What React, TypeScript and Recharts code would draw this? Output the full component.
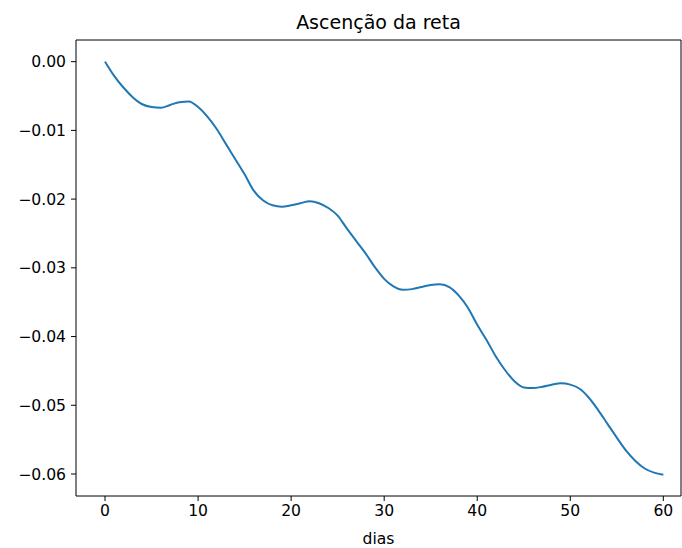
import { LineChart, Line, XAxis, YAxis } from 'recharts';

// dias (x) e ascensão da reta (y)
const days = [
  0, 1, 2, 3, 4, 5, 6, 7, 8, 9, 10, 11, 12, 13, 14, 15, 16, 17, 18, 19, 20,
  21, 22, 23, 24, 25, 26, 27, 28, 29, 30, 31, 32, 33, 34, 35, 36, 37, 38, 39, 40,
  41, 42, 43, 44, 45, 46, 47, 48, 49, 50, 51, 52, 53, 54, 55, 56, 57, 58, 59, 60,
];

const ascension = [
  0, -0.0021, -0.0038, -0.0052, -0.0062, -0.0066, -0.0067, -0.0063, -0.0059, -0.0058,
  -0.0066, -0.008, -0.0098, -0.012, -0.0142, -0.0164, -0.0188, -0.0202, -0.0209, -0.0211,
  -0.0209, -0.0206, -0.0203, -0.0206, -0.0213, -0.0224, -0.0243, -0.0261, -0.0279, -0.0299,
  -0.0316, -0.0327, -0.0332, -0.0331, -0.0328, -0.0325, -0.0324, -0.0328, -0.034, -0.0358,
  -0.0383, -0.0405, -0.0429, -0.0449, -0.0465, -0.0474, -0.0475, -0.0473, -0.047, -0.0468,
  -0.047, -0.0476, -0.0489, -0.0507, -0.0527, -0.0547, -0.0566, -0.0581, -0.0592, -0.0598,
  -0.0601,
];

const xTicks = [0, 10, 20, 30, 40, 50, 60];
const yTicks = [0, -0.01, -0.02, -0.03, -0.04, -0.05, -0.06];

const title = 'Ascenção da reta';
const xLabel = 'dias';

const data = days.map((d, i) => ({ dia: d, valor: ascension[i] }));

const FONT = '"DejaVu Sans", sans-serif';
const X_DOMAIN: [number, number] = [-3.12, 61.9];
const Y_DOMAIN: [number, number] = [-0.0632, 0.00315];

// plot box (matches margins + axis sizes below)
const PLOT = { left: 76, top: 40, right: 681, bottom: 496 };

const fmtY = (v: number) => v.toFixed(2).replace('-', '\u2212');

export default function App() {
  return (
    <div
      style={{
        position: 'absolute',
        left: 0,
        top: 0,
        width: 682,
        height: 548,
        background: '#fff',
        fontFamily: FONT,
      }}
    >
      <div
        style={{
          position: 'absolute',
          left: PLOT.left,
          width: PLOT.right - PLOT.left,
          top: 11,
          textAlign: 'center',
          fontSize: 19,
          lineHeight: '22px',
          color: '#000',
        }}
      >
        {title}
      </div>
      <LineChart
        width={682}
        height={548}
        data={data}
        margin={{ top: 40, right: 1, bottom: 22, left: 0 }}
      >
        <XAxis
          dataKey="dia"
          type="number"
          domain={X_DOMAIN}
          ticks={xTicks}
          allowDataOverflow
          height={30}
          tickSize={5}
          tickMargin={4}
          stroke="#000"
          axisLine={{ stroke: '#000' }}
          tickLine={{ stroke: '#000' }}
          tick={{ fill: '#000', fontSize: 15.6, fontFamily: FONT }}
        />
        <YAxis
          type="number"
          domain={Y_DOMAIN}
          ticks={yTicks}
          tickFormatter={fmtY}
          allowDataOverflow
          width={76}
          tickSize={5}
          tickMargin={5}
          stroke="#000"
          axisLine={{ stroke: '#000' }}
          tickLine={{ stroke: '#000' }}
          tick={{ fill: '#000', fontSize: 15.6, fontFamily: FONT }}
        />
        <Line
          type="monotone"
          dataKey="valor"
          stroke="#1f77b4"
          strokeWidth={2}
          dot={false}
          isAnimationActive={false}
        />
      </LineChart>
      {/* top and right spines of the frame */}
      <svg
        width={682}
        height={548}
        style={{ position: 'absolute', left: 0, top: 0, pointerEvents: 'none' }}
      >
        <polyline
          points={`${PLOT.left},${PLOT.top} ${PLOT.right},${PLOT.top} ${PLOT.right},${PLOT.bottom}`}
          fill="none"
          stroke="#000"
          strokeWidth={1}
        />
      </svg>
      <div
        style={{
          position: 'absolute',
          left: PLOT.left,
          width: PLOT.right - PLOT.left,
          top: 529,
          textAlign: 'center',
          fontSize: 15.6,
          lineHeight: '20px',
          color: '#000',
        }}
      >
        {xLabel}
      </div>
    </div>
  );
}
